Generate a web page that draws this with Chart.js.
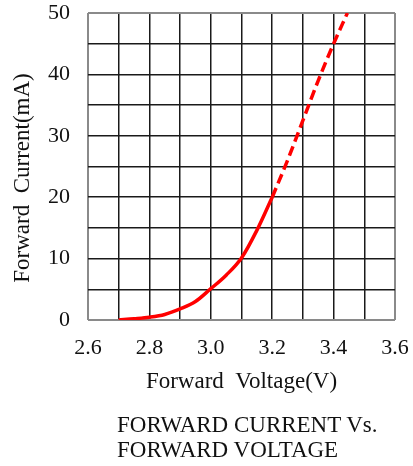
<!DOCTYPE html>
<html>
<head>
<meta charset="utf-8">
<script src="https://cdn.jsdelivr.net/npm/chart.js@4.4.1/dist/chart.umd.min.js"></script>
<style>
  html, body { margin: 0; padding: 0; background: #fff; width: 413px; height: 466px; overflow: hidden; }
  #wrap { position: relative; width: 413px; height: 466px; }
  canvas { position: absolute; left: 0; top: 0; }
  #caption { position: absolute; left: 117px; top: 412px; font-family: 'Liberation Serif', 'Times New Roman', serif; font-size: 23px; line-height: 25px; color: #111; }
</style>
</head>
<body>
<div id="wrap">
  <canvas id="c" width="413" height="466"></canvas>
  <div id="caption">FORWARD CURRENT Vs.<br>FORWARD VOLTAGE</div>
</div>
<script>
// Measured (solid) part of the curve
const solidVoltage = [2.70, 2.75, 2.80, 2.85, 2.90, 2.95, 3.00, 3.05, 3.10, 3.15, 3.20];
const solidCurrent = [0.0, 0.2, 0.45, 0.9, 1.8, 3.0, 5.1, 7.3, 10.1, 14.6, 20.0];
// Extrapolated (dashed) part of the curve
const dashVoltage = [3.20, 3.25, 3.30, 3.35, 3.40, 3.445];
const dashCurrent = [20.0, 26.0, 32.5, 39.0, 45.0, 50.0];

const xTitle = 'Forward  Voltage(V)';
const yTitle = 'Forward  Current(mA)\u00a0\u00a0\u00a0\u00a0';

const serif = "'Liberation Serif', 'Times New Roman', serif";
const toPts = (xs, ys) => xs.map((x, i) => ({ x: x, y: ys[i] }));

const gridColor = (ctx) => {
  const n = ctx.scale.ticks.length;
  return (ctx.index === 0 || ctx.index === n - 1) ? '#8a8a8a' : '#1a1a1a';
};
const gridWidth = (ctx) => {
  const n = ctx.scale.ticks.length;
  return (ctx.index === 0 || ctx.index === n - 1) ? 2 : 1.5;
};

new Chart(document.getElementById('c'), {
  type: 'line',
  data: {
    datasets: [
      { data: toPts(solidVoltage, solidCurrent), borderColor: '#ff0000', borderWidth: 3.5, pointRadius: 0, cubicInterpolationMode: 'monotone', fill: false },
      { data: toPts(dashVoltage, dashCurrent), borderColor: '#ff0000', borderWidth: 3.5, borderDash: [10, 5], pointRadius: 0, cubicInterpolationMode: 'monotone', fill: false }
    ]
  },
  options: {
    responsive: false,
    animation: false,
    layout: { padding: { top: 13, right: 18, bottom: 66, left: 0 } },
    plugins: { legend: { display: false }, tooltip: { enabled: false } },
    scales: {
      x: {
        type: 'linear', min: 2.6, max: 3.6,
        afterFit: (s) => { s.height = 80; s.paddingLeft = 0; s.paddingRight = 0; },
        ticks: {
          stepSize: 0.1, autoSkip: false, maxRotation: 0, padding: 15,
          color: '#111', font: { family: serif, size: 22 },
          callback: (v, i) => (i % 2 === 0 ? Number(v).toFixed(1) : '')
        },
        grid: { color: gridColor, lineWidth: gridWidth, drawTicks: false },
        border: { display: false },
        title: { display: true, text: xTitle, color: '#111', font: { family: serif, size: 23 }, padding: { top: 10 } }
      },
      y: {
        type: 'linear', min: 0, max: 50,
        afterFit: (s) => { s.width = 88; s.paddingTop = 0; s.paddingBottom = 0; },
        ticks: {
          stepSize: 5, autoSkip: false, padding: 18,
          color: '#111', font: { family: serif, size: 22 },
          callback: (v) => (v % 10 === 0 ? String(v) : '')
        },
        grid: { color: gridColor, lineWidth: gridWidth, drawTicks: false },
        border: { display: false },
        title: { display: true, text: yTitle, color: '#111', font: { family: serif, size: 23 }, padding: { top: 9, bottom: 4 } }
      }
    }
  }
});
</script>
</body>
</html>
